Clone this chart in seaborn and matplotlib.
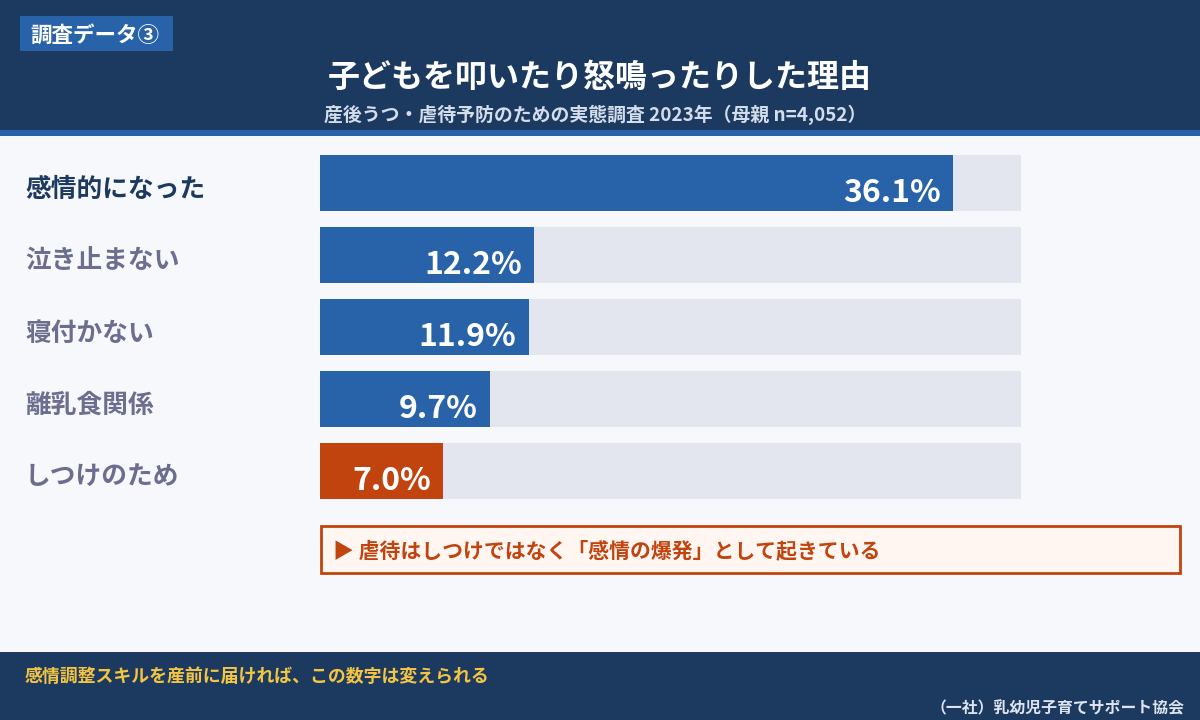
import matplotlib
matplotlib.use("Agg")
import matplotlib.pyplot as plt
import matplotlib.transforms as mtransforms
from matplotlib.patches import Rectangle
import seaborn as sns
import pandas as pd

# ---- data ----
categories = ["感情的になった", "泣き止まない", "寝付かない", "離乳食関係", "しつけのため"]
values = [36.1, 12.2, 11.9, 9.7, 7.0]
value_labels = ["36.1%", "12.2%", "11.9%", "9.7%", "7.0%"]
scale_max = 40
tag_text = "調査データ③"
title = "子どもを叩いたり怒鳴ったりした理由"
subtitle = "産後うつ・虐待予防のための実態調査 2023年（母親 n=4,052）"
callout = "▶ 虐待はしつけではなく「感情の爆発」として起きている"
footer_msg = "感情調整スキルを産前に届ければ、この数字は変えられる"
footer_src = "（一社）乳幼児子育てサポート協会"

# ---- style ----
sns.set_theme(style="white")
FONT = ["Noto Sans CJK JP", "DejaVu Sans"]
plt.rcParams["font.family"] = FONT

NAVY = "#1c3a5f"
BLUE = "#2862a8"
ORANGE = "#c1440e"
TRACK = "#e4e6ef"
BG = "#f7f8fc"

W, H = 1200, 720
fig = plt.figure(figsize=(12, 7.2), dpi=100)
fig.patch.set_facecolor(BG)

def px(x, y, w, h):
    return (x / W, 1 - (y + h) / H, w / W, h / H)

def frect(x, y, w, h, **kw):
    l, b, ww, hh = px(x, y, w, h)
    fig.patches.append(Rectangle((l, b), ww, hh, transform=fig.transFigure, **kw))

# header
frect(0, 0, 1200, 131, facecolor=NAVY, edgecolor="none", zorder=0)
frect(0, 130, 1200, 6, facecolor=BLUE, edgecolor="none", zorder=0)
frect(20, 16, 153, 35, facecolor=BLUE, edgecolor="none", zorder=1)
fig.text(30 / W, 1 - 35 / H, tag_text, color="white", fontsize=15.5, fontweight="bold",
         va="center", ha="left", family=FONT)
fig.text(600 / W, 1 - 78 / H, title, color="white", fontsize=23.0, fontweight="bold",
         va="center", ha="center", family=FONT)
fig.text(595 / W, 1 - 115 / H, subtitle, color="#d3ddeb", fontsize=13.6, fontweight="bold",
         va="center", ha="center", family=FONT)

# footer
frect(0, 652, 1200, 68, facecolor=NAVY, edgecolor="none", zorder=0)
fig.text(25 / W, 1 - 677 / H, footer_msg, color="#f4c542", fontsize=12.9, fontweight="bold",
         va="center", ha="left", family=FONT)
fig.text(1185 / W, 1 - 708 / H, footer_src, color="#dde4ef", fontsize=11.4, fontweight="bold",
         va="center", ha="right", family=FONT)

# callout
frect(321, 526, 859, 47, facecolor="#fff6f1", edgecolor=ORANGE, linewidth=2, zorder=1)
fig.text(333 / W, 1 - 551 / H, callout, color=ORANGE, fontsize=15.0, fontweight="bold",
         va="center", ha="left", family=FONT)

# ---- chart ----
ax = fig.add_axes(px(320, 147, 701, 360))
ax.set_facecolor("none")
df = pd.DataFrame({"category": categories, "value": values,
                   "track": [scale_max] * len(categories)})
bar_colors = [BLUE] * (len(categories) - 1) + [ORANGE]
sns.barplot(data=df, x="track", y="category", orient="h", color=TRACK,
            width=0.764, ax=ax, saturation=1, linewidth=0)
sns.barplot(data=df, x="value", y="category", hue="category", orient="h",
            palette=bar_colors, width=0.764, ax=ax, saturation=1, legend=False,
            linewidth=0)
ax.set_xlim(0, scale_max)
ax.set_ylim(len(categories) - 0.5, -0.5)
ax.axis("off")

# value labels
for i, (v, lab) in enumerate(zip(values, value_labels)):
    off = mtransforms.offset_copy(ax.transData, fig=fig, x=-12, y=-10, units="dots")
    ax.text(v, i, lab, transform=off, color="white", fontsize=23, fontweight="bold",
            ha="right", va="center", family=FONT)

# category labels
blend = mtransforms.blended_transform_factory(fig.transFigure, ax.transData)
for i, c in enumerate(categories):
    off = mtransforms.offset_copy(blend, fig=fig, x=0, y=-6, units="dots")
    ax.text(25 / W, i, c, transform=off, color=NAVY if i == 0 else "#6b6e8e",
            fontsize=18.5, fontweight="bold", ha="left", va="center", family=FONT,
            clip_on=False)

fig.savefig("out.png", dpi=100, facecolor=fig.get_facecolor())
